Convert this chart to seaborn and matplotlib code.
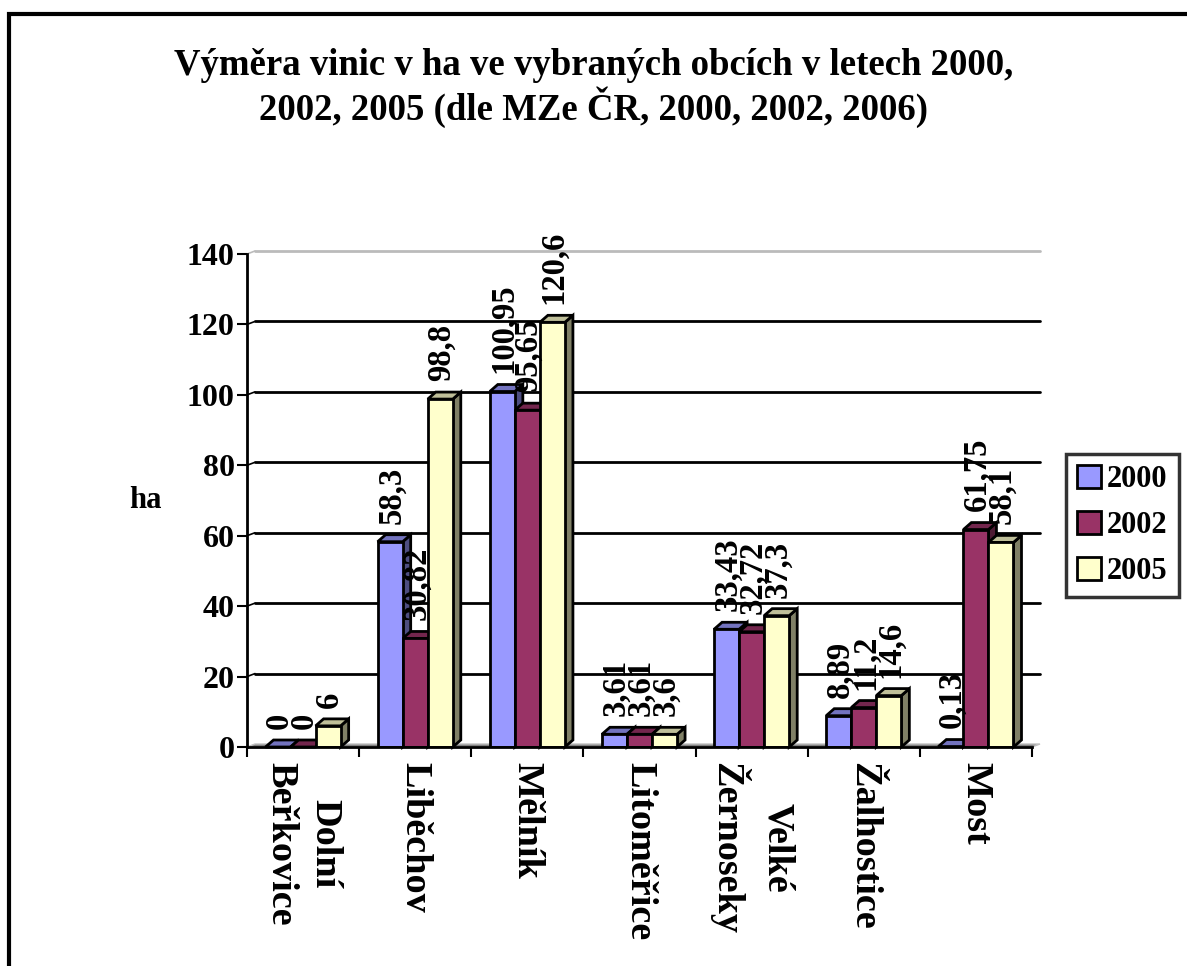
import matplotlib
matplotlib.use("Agg")
import matplotlib.pyplot as plt
import seaborn as sns
import pandas as pd
from matplotlib.patches import Polygon, Rectangle, Patch
from matplotlib.lines import Line2D

# ---- data ----
obce = ["Dolní\nBeřkovice", "Liběchov", "Mělník", "Litoměřice",
        "Velké\nŽernoseky", "Žalhostice", "Most"]
roky = ["2000", "2002", "2005"]
v2000 = [0, 58.3, 100.95, 3.61, 33.43, 8.89, 0.13]
v2002 = [0, 30.82, 95.65, 3.61, 32.72, 11.2, 61.75]
v2005 = [6, 98.8, 120.6, 3.6, 37.3, 14.6, 58.1]
yticks = [0, 20, 40, 60, 80, 100, 120, 140]
title = "Výměra vinic v ha ve vybraných obcích v letech 2000,\n2002, 2005 (dle MZe ČR, 2000, 2002, 2006)"

front = ["#9999FF", "#993366", "#FFFFCC"]
side = ["#4D4D80", "#4D1A33", "#808066"]
top = ["#7373BF", "#73264D", "#BFBF99"]

rows = []
for rok, vals in zip(roky, [v2000, v2002, v2005]):
    for o, v in zip(obce, vals):
        rows.append({"obec": o, "rok": rok, "ha": v})
df = pd.DataFrame(rows)

sns.set_theme(style="white")
plt.rcParams["font.family"] = ["Liberation Serif", "DejaVu Serif"]
plt.rcParams["font.weight"] = "bold"
for key in ["text.color", "axes.labelcolor", "xtick.color", "ytick.color", "axes.edgecolor"]:
    plt.rcParams[key] = "black"

fig = plt.figure(figsize=(11.87, 9.66), dpi=100)
ax = fig.add_axes([247 / 1187, 1 - 747 / 966, 785 / 1187, 493 / 966])

sns.barplot(data=df, x="obec", y="ha", hue="rok", order=obce, hue_order=roky,
            palette=front, saturation=1, width=0.67, edgecolor="black",
            linewidth=2, errorbar=None, ax=ax, zorder=3)
if ax.get_legend() is not None:
    ax.get_legend().remove()

n = len(obce)
ax.set_xlim(-0.5, n - 0.5)
ax.set_ylim(0, 140)

# 3D depth in data units
dx = 8 / (785 / n)
dy = 7 / (493 / 140)
dyg = 3 / (493 / 140)

# floor
ax.add_patch(Polygon([(-0.5, 0), (n - 0.5, 0), (n - 0.5 + dx, dyg), (-0.5 + dx, dyg)],
                     closed=True, facecolor="#808080", edgecolor="#C0C0C0",
                     linewidth=1, zorder=1, clip_on=False))

# back-wall gridlines
for t in yticks[1:]:
    col = "#BBBBBB" if t == yticks[-1] else "black"
    ax.add_line(Line2D([-0.5 + dx, n - 0.5 + dx], [t + dyg, t + dyg], color=col,
                       linewidth=2, zorder=0.5, clip_on=False))
    ax.add_line(Line2D([-0.5, -0.5 + dx], [t, t + dyg], color=col,
                       linewidth=1.2, zorder=0.5, clip_on=False))

# 3D faces and labels
for k, cont in enumerate(ax.containers):
    for rect in cont.patches:
        x0, w, h = rect.get_x(), rect.get_width(), rect.get_height()
        ax.add_patch(Polygon([(x0 + w, 0), (x0 + w + dx, dy), (x0 + w + dx, h + dy), (x0 + w, h)],
                             closed=True, facecolor=side[k], edgecolor="black",
                             linewidth=2, zorder=2, clip_on=False))
        ax.add_patch(Polygon([(x0, h), (x0 + w, h), (x0 + w + dx, h + dy), (x0 + dx, h + dy)],
                             closed=True, facecolor=top[k], edgecolor="black",
                             linewidth=2, zorder=2.5, clip_on=False))
        lab = f"{h:g}".replace(".", ",")
        ax.annotate(lab, xy=(x0 + w / 2, h), xytext=(1, 13), textcoords="offset points",
                    rotation=90, ha="center", va="bottom", fontsize=23.5,
                    fontweight="bold", color="black", zorder=6, annotation_clip=False)

# axes styling
for s in ["top", "right"]:
    ax.spines[s].set_visible(False)
for s in ["left", "bottom"]:
    ax.spines[s].set_visible(True)
    ax.spines[s].set_color("black")
    ax.spines[s].set_linewidth(2)
    ax.spines[s].set_zorder(4)

ax.set_yticks(yticks)
ax.set_yticklabels([str(t) for t in yticks], fontsize=23, fontweight="bold", color="black")
ax.tick_params(axis="y", direction="out", length=7, width=1.5, color="black", pad=2, left=True)

ax.set_xticks(range(n))
ax.set_xticklabels(obce, rotation=270, fontsize=27.5, fontweight="bold", color="black",
                   ha="center", va="top", linespacing=1.35)
for t in ax.get_xticklabels():
    t.set_multialignment("center")
ax.tick_params(axis="x", which="major", length=0, pad=11)
ax.set_xticks([i - 0.5 for i in range(n + 1)], minor=True)
ax.tick_params(axis="x", which="minor", direction="out", length=7, width=1.5,
               color="black", bottom=True)

ax.set_xlabel("")
ax.set_ylabel("ha", rotation=0, fontsize=22, fontweight="bold", color="black",
              ha="center", va="center")
ax.yaxis.set_label_coords(-0.13, 0.5)
ax.set_facecolor("none")
ax.grid(False)

fig.text(0.5, 1 - 88 / 966, title, ha="center", va="center", fontsize=26.5,
         fontweight="bold", color="black", linespacing=1.12)

handles = [Patch(facecolor=c, edgecolor="black", linewidth=2) for c in front]
leg = fig.legend(handles, roky, loc="upper left",
                 bbox_to_anchor=(1066 / 1187, 1 - 454 / 966),
                 prop={"size": 22, "weight": "bold"}, frameon=True, fancybox=False,
                 handlelength=0.8, handleheight=0.8, handletextpad=0.2,
                 borderpad=0.35, labelspacing=0.55, borderaxespad=0)
leg.get_frame().set_edgecolor("black")
leg.get_frame().set_linewidth(2.5)
for t in leg.get_texts():
    t.set_color("black")

# outer chart border
fig.patches.append(Rectangle((9 / 1187, -0.05), 1.2, 1 - 14 / 966 + 0.05,
                             transform=fig.transFigure, fill=False,
                             edgecolor="black", linewidth=3))

fig.savefig("out.png", dpi=100)
